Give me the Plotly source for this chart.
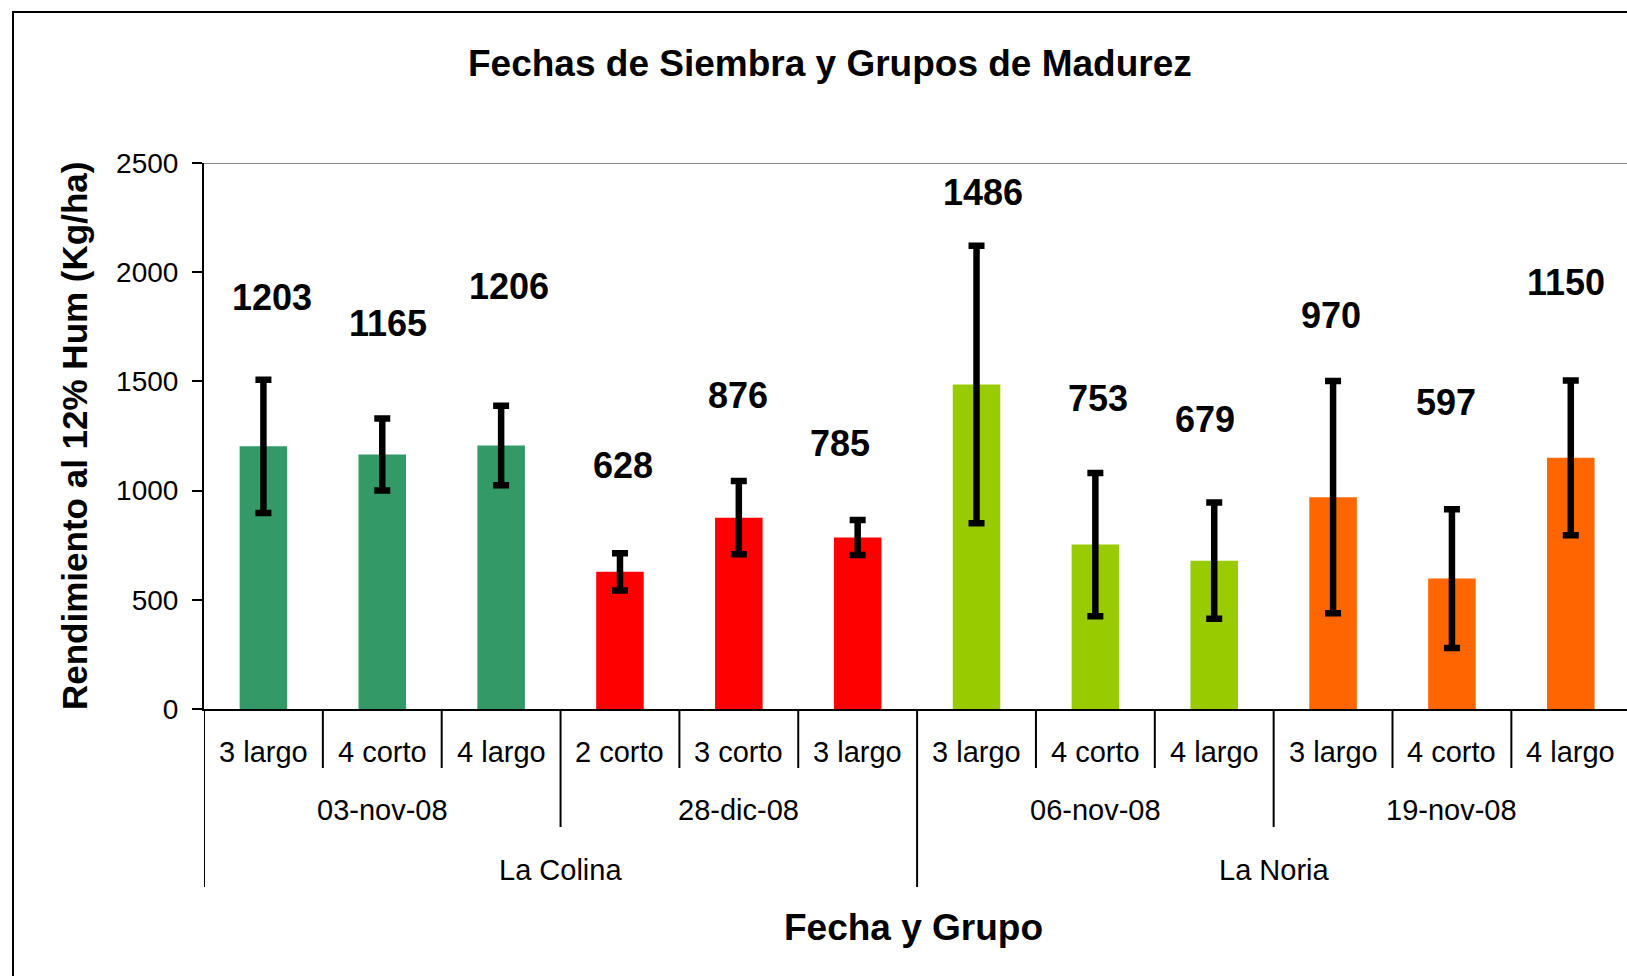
import plotly.graph_objects as go

# ---- data ----
categorias = ["3 largo", "4 corto", "4 largo", "2 corto", "3 corto", "3 largo",
              "3 largo", "4 corto", "4 largo", "3 largo", "4 corto", "4 largo"]
fechas = ["03-nov-08", "28-dic-08", "06-nov-08", "19-nov-08"]
fecha_n = [3, 3, 3, 3]
lugares = ["La Colina", "La Noria"]
lugar_n = [6, 6]
rendimiento = [1203, 1165, 1206, 628, 876, 785, 1486, 753, 679, 970, 597, 1150]
error = [305, 165, 182, 85, 168, 80, 635, 328, 266, 532, 318, 354]
colores_fecha = ["#339966", "#FF0000", "#99CC00", "#FF6600"]
# position of each value label (in y units) and small horizontal nudges (px)
label_y = [1882, 1763, 1934, 1117, 1435, 1217, 2367, 1421, 1326, 1801, 1402, 1953]
label_dx = [9, 6, 8, 3, -1, -18, 6, 3, -9, -2, -6, -5]
y_ticks = [0, 500, 1000, 1500, 2000, 2500]

FONT = "Arial, Liberation Sans, sans-serif"

W, H = 1627, 976
L, T, B = 204, 163, 709  # plot area pixel edges
plot_h = B - T
plot_w = W - L
cat_w = 118.85
x_span = plot_w / cat_w


def py(p):
    """pixel y -> paper y"""
    return (B - p) / plot_h


def px(p):
    return (p - L) / plot_w


xs = list(range(len(categorias)))
bar_colors = []
for c, n in zip(colores_fecha, fecha_n):
    bar_colors += [c] * n

fig = go.Figure()
fig.add_trace(go.Bar(
    x=xs, y=rendimiento, width=0.4,
    marker=dict(color=bar_colors, line=dict(width=0)),
    error_y=dict(type="data", array=error, visible=True,
                 color="black", thickness=6.5, width=8),
    showlegend=False, hoverinfo="y",
))

annotations = []
shapes = []

# value labels
for x, v, ly, dx in zip(xs, rendimiento, label_y, label_dx):
    annotations.append(dict(x=x, y=ly, xref="x", yref="y", text=str(v),
                            showarrow=False, xshift=dx,
                            font=dict(family=FONT, size=36, color="black", weight="bold")))

# level 1 category labels
for x, c in zip(xs, categorias):
    annotations.append(dict(x=x, y=py(752), xref="x", yref="paper", text=c,
                            showarrow=False, yanchor="middle",
                            font=dict(family=FONT, size=29, color="black")))

# level 2 date labels + separators
start = 0
date_bounds = []
for f, n in zip(fechas, fecha_n):
    annotations.append(dict(x=start + (n - 1) / 2, y=py(810), xref="x", yref="paper",
                            text=f, showarrow=False, yanchor="middle",
                            font=dict(family=FONT, size=29, color="black")))
    start += n
    date_bounds.append(start - 0.5)

# level 3 location labels
start = 0
loc_bounds = [-0.5]
for lg, n in zip(lugares, lugar_n):
    annotations.append(dict(x=start + (n - 1) / 2, y=py(870), xref="x", yref="paper",
                            text=lg, showarrow=False, yanchor="middle",
                            font=dict(family=FONT, size=29, color="black")))
    start += n
    loc_bounds.append(start - 0.5)

# separators
for i in range(len(categorias) + 1):
    b = i - 0.5
    if b in loc_bounds:
        bottom = py(887)
    elif b in date_bounds:
        bottom = py(827)
    else:
        bottom = py(768)
    if b > x_span - 0.5:
        continue
    shapes.append(dict(type="line", xref="x", yref="paper", x0=b, x1=b,
                       y0=0, y1=bottom, line=dict(color="black", width=2)))

# top gray line at 2500
shapes.append(dict(type="line", xref="paper", yref="y", x0=0, x1=1.01, y0=2500, y1=2500,
                   line=dict(color="#8a8a8a", width=2)))

# outer chart border
shapes.append(dict(type="rect", xref="paper", yref="paper",
                   x0=px(13), x1=px(1700), y0=py(1100), y1=py(12),
                   line=dict(color="black", width=2), fillcolor="rgba(0,0,0,0)"))

# titles
annotations.append(dict(x=px(830), y=py(64), xref="paper", yref="paper",
                        text="Fechas de Siembra y Grupos de Madurez", showarrow=False,
                        xanchor="center", yanchor="middle",
                        font=dict(family=FONT, size=37, color="black", weight="bold")))
annotations.append(dict(x=px(913), y=py(927), xref="paper", yref="paper",
                        text="Fecha y Grupo", showarrow=False,
                        xanchor="center", yanchor="middle",
                        font=dict(family=FONT, size=37, color="black", weight="bold")))
annotations.append(dict(x=px(74), y=py(436), xref="paper", yref="paper",
                        text="Rendimiento al 12% Hum (Kg/ha)", showarrow=False,
                        textangle=-90, xanchor="center", yanchor="middle",
                        font=dict(family=FONT, size=35, color="black", weight="bold")))

fig.update_layout(
    width=W, height=H,
    margin=dict(l=L, r=0, t=T, b=H - B, pad=0),
    paper_bgcolor="white", plot_bgcolor="white",
    xaxis=dict(range=[-0.5, x_span - 0.5], showticklabels=False, ticks="",
               showgrid=False, zeroline=False, showline=True,
               linecolor="black", linewidth=2, fixedrange=True),
    yaxis=dict(range=[0, 2500], tickvals=y_ticks, ticks="outside", ticklen=10,
               tickwidth=2, tickcolor="black", showgrid=False, zeroline=False,
               showline=True, linecolor="black", linewidth=2, ticklabelstandoff=8,
               tickfont=dict(family=FONT, size=28, color="black"), fixedrange=True),
    annotations=annotations,
    shapes=shapes,
    bargap=0.6,
)

fig.write_html(
    "out.html",
    config={"displayModeBar": False},
    post_script="document.body.style.margin='0px';document.body.style.overflow='hidden';",
)
